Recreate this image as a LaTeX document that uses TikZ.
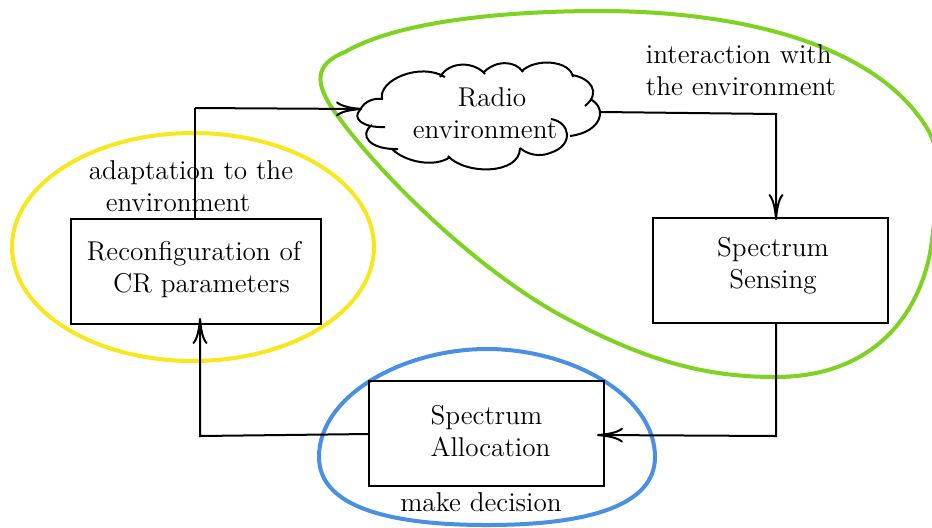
\documentclass[tikz,border=0pt]{standalone}
\usetikzlibrary{arrows.meta}
\tikzset{
  px/.style={x=0.5pt,y=-0.5pt},
  box/.style={draw=black,line width=1pt,inner sep=0pt},
  wire/.style={draw=black,line width=1pt},
  arr/.style={wire,-{Computer Modern Rightarrow[length=13pt,width=7.5pt,line width=1pt]}},
  txt/.style={font=\fontsize{13.6}{16}\selectfont,inner sep=0pt,align=center},
  ring/.style={line width=2pt}
}
\definecolor{ringgreen}{HTML}{7ED321}
\definecolor{ringyellow}{HTML}{F8E71C}
\definecolor{ringblue}{HTML}{4A90E2}
\begin{document}
\begin{tikzpicture}[px]
\useasboundingbox (0,0) rectangle (932,527);
\clip (0,0) rectangle (932,527);
% rings
\draw[ring,ringgreen] (345,52) .. controls (400,20) and (510,11) .. (600,11)
  .. controls (730,11) and (870,40) .. (925,125)
  .. controls (945,155) and (938,190) .. (932,240)
  .. controls (925,300) and (885,377) .. (775,377)
  .. controls (700,377) and (640,358) .. (560,315)
  .. controls (470,265) and (370,165) .. (330,105)
  .. controls (318,85) and (312,65) .. (345,52) -- cycle;
\draw[ring,ringyellow] (193,247) ellipse [x radius=181,y radius=114];
\draw[ring,ringblue] (487,349) .. controls (570,349) and (655,395) .. (655,457)
  .. controls (655,505) and (590,525) .. (487,525)
  .. controls (384,525) and (319,505) .. (319,457)
  .. controls (319,395) and (404,349) .. (487,349) -- cycle;
% boxes
\node[box,minimum width=125pt,minimum height=52.5pt] (recon) at (196,271.5) {};
\node[box,minimum width=117.5pt,minimum height=52.5pt] (sense) at (770,270) {};
\node[box,minimum width=117.5pt,minimum height=52.5pt] (alloc) at (486.5,433) {};
\node[txt] (recontext) at (194,269.5) {Reconfiguration of\\\hspace*{7.5pt}CR parameters};
\node[txt] (sensetext) at (773,266) {Spectrum\\Sensing};
\node[txt,align=left] (alloctext) at (490.5,431.5) {Spectrum\\Allocation};
% cloud
\draw[line width=1pt]
  (360,110) .. controls (365,100) and (375,98) .. (383,99)
  (382,99) .. controls (378,80) and (420,62) .. (445,77)
  (440,77) .. controls (450,60) and (475,62) .. (485,74)
  (483,73) .. controls (495,60) and (515,60) .. (523,72)
  (522,71) .. controls (535,58) and (570,60) .. (573,77)
  (572,75) .. controls (590,78) and (602,92) .. (585,106)
  (590,99) .. controls (608,108) and (602,132) .. (570,136)
  (551,119) .. controls (570,122) and (575,145) .. (550,153) .. controls (540,157) and (528,155) .. (520,148)
  (520,148) .. controls (520,175) and (465,175) .. (448,156)
  (450,157) .. controls (435,168) and (405,162) .. (392,149)
  (398,149) .. controls (370,150) and (358,135) .. (372,125)
  (385,127) .. controls (362,128) and (352,118) .. (360,110);
\node[txt] (radio) at (485,113) {\hspace*{7pt}Radio\\environment};
\coordinate (cloudleft) at (362,109);
\coordinate (cloudright) at (601,112);
\coordinate (topleft) at (195,108);
\coordinate (topright) at (776,114);
\coordinate (botright) at (776,436);
\coordinate (botleft) at (200,436);
\coordinate (recontop) at (195,219);
\coordinate (senseTop) at (776,220);
\coordinate (senseBot) at (776,323);
\coordinate (allocRight) at (597,435);
\coordinate (allocLeft) at (369,434);
\coordinate (reconBot) at (200,318);
\draw[wire] (recontop) -- (topleft);
\draw[arr] (topleft) -- (cloudleft);
\draw[arr] (cloudright) -- (topright) -- (senseTop);
\draw[arr] (senseBot) -- (botright) -- (allocRight);
\draw[arr] (allocLeft) -- (botleft) -- (reconBot);
% labels
\node[txt] (adapt) at (191,186) {adaptation to the\\\hspace*{-13pt}environment};
\node[txt,align=left] (inter) at (741,70) {interaction with\\the environment};
\node[txt] (decision) at (481,502) {make decision};
\end{tikzpicture}
\end{document}
